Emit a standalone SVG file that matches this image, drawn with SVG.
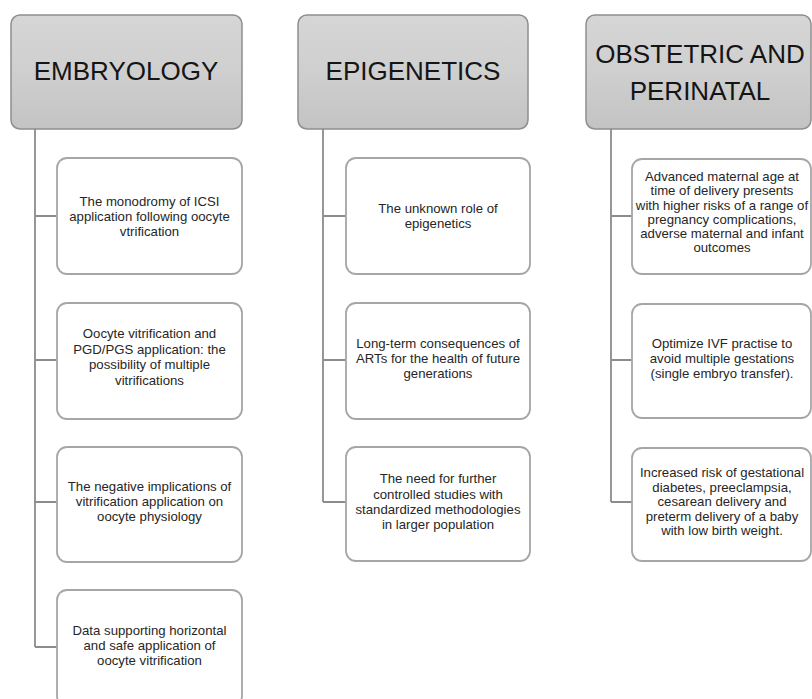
<svg xmlns="http://www.w3.org/2000/svg" width="812" height="699" viewBox="0 0 812 699">
<defs>
<linearGradient id="hg" x1="0" y1="0" x2="0" y2="1">
<stop offset="0" stop-color="#d6d6d6"/>
<stop offset="0.5" stop-color="#cfcfcf"/>
<stop offset="1" stop-color="#c3c3c3"/>
</linearGradient>
<style>
.hdr{fill:url(#hg);stroke:#8e8e8e;stroke-width:1.5}
.ht{font-family:"Liberation Sans",Arial,sans-serif;font-size:26px;fill:#151515;text-anchor:middle}
.box{fill:#ffffff;stroke:#a6a6a6;stroke-width:1.8}
.bt{font-family:"Liberation Sans",Arial,sans-serif;font-size:13.2px;fill:#262626;text-anchor:middle}
.con{fill:none;stroke:#8c8c8c;stroke-width:1.8}
</style>
</defs>
<rect width="812" height="699" fill="#ffffff"/>
<g id="connectors">
<path class="con" d="M35 129 V647 M35 216 H57 M35 360 H57 M35 502 H57 M35 647 H57"/>
<path class="con" d="M323 129 V502 M323 216 H346 M323 360 H346 M323 502 H346"/>
<path class="con" d="M611 129 V502 M611 216 H632 M611 360 H632 M611 502 H632"/>
</g>
<g id="h-embryology">
<rect class="hdr" x="11" y="15" width="231" height="114" rx="9"/>
<text class="ht" x="126" y="80">EMBRYOLOGY</text>
</g>
<g id="h-epigenetics">
<rect class="hdr" x="298" y="15" width="230" height="114" rx="9"/>
<text class="ht" x="413" y="80">EPIGENETICS</text>
</g>
<g id="h-obstetric">
<rect class="hdr" x="586" y="15" width="225" height="114" rx="9"/>
<text class="ht" x="700" y="63">OBSTETRIC AND</text>
<text class="ht" x="700" y="100">PERINATAL</text>
</g>
<g id="e1">
<rect class="box" x="57" y="158" width="185" height="116" rx="10"/>
<text class="bt" x="149.5" y="206">The monodromy of ICSI</text>
<text class="bt" x="149.5" y="221">application following oocyte</text>
<text class="bt" x="149.5" y="236">vtrification</text>
</g>
<g id="e2">
<rect class="box" x="57" y="303" width="185" height="116" rx="10"/>
<text class="bt" x="149.5" y="338">Oocyte vitrification and</text>
<text class="bt" x="149.5" y="354">PGD/PGS application: the</text>
<text class="bt" x="149.5" y="369">possibility of multiple</text>
<text class="bt" x="149.5" y="385">vitrifications</text>
</g>
<g id="e3">
<rect class="box" x="57" y="447" width="185" height="115" rx="10"/>
<text class="bt" x="149.5" y="491">The negative implications of</text>
<text class="bt" x="149.5" y="506">vitrification application on</text>
<text class="bt" x="149.5" y="521">oocyte physiology</text>
</g>
<g id="e4">
<rect class="box" x="57" y="590" width="185" height="116" rx="10"/>
<text class="bt" x="149.5" y="635">Data supporting horizontal</text>
<text class="bt" x="149.5" y="650">and safe application of</text>
<text class="bt" x="149.5" y="665">oocyte vitrification</text>
</g>
<g id="g1">
<rect class="box" x="346" y="158" width="184" height="116" rx="10"/>
<text class="bt" x="438" y="213">The unknown role of</text>
<text class="bt" x="438" y="228">epigenetics</text>
</g>
<g id="g2">
<rect class="box" x="346" y="303" width="184" height="116" rx="10"/>
<text class="bt" x="438" y="348">Long-term consequences of</text>
<text class="bt" x="438" y="363">ARTs for the health of future</text>
<text class="bt" x="438" y="378">generations</text>
</g>
<g id="g3">
<rect class="box" x="346" y="447" width="184" height="114" rx="10"/>
<text class="bt" x="438" y="483">The need for further</text>
<text class="bt" x="438" y="499">controlled studies with</text>
<text class="bt" x="438" y="514">standardized methodologies</text>
<text class="bt" x="438" y="529">in larger population</text>
</g>
<g id="o1">
<rect class="box" x="632" y="159" width="179" height="115" rx="10"/>
<text class="bt" x="722" y="181">Advanced maternal age at</text>
<text class="bt" x="722" y="195">time of delivery presents</text>
<text class="bt" x="722" y="210">with higher risks of a range of</text>
<text class="bt" x="722" y="224">pregnancy complications,</text>
<text class="bt" x="722" y="238">adverse maternal and infant</text>
<text class="bt" x="722" y="252">outcomes</text>
</g>
<g id="o2">
<rect class="box" x="632" y="304" width="179" height="114" rx="10"/>
<text class="bt" x="722" y="348">Optimize IVF practise to</text>
<text class="bt" x="722" y="363">avoid multiple gestations</text>
<text class="bt" x="722" y="378">(single embryo transfer).</text>
</g>
<g id="o3">
<rect class="box" x="632" y="448" width="179" height="113" rx="10"/>
<text class="bt" x="722" y="477">Increased risk of gestational</text>
<text class="bt" x="722" y="492">diabetes, preeclampsia,</text>
<text class="bt" x="722" y="506">cesarean delivery and</text>
<text class="bt" x="722" y="521">preterm delivery of a baby</text>
<text class="bt" x="722" y="535">with low birth weight.</text>
</g>
</svg>
